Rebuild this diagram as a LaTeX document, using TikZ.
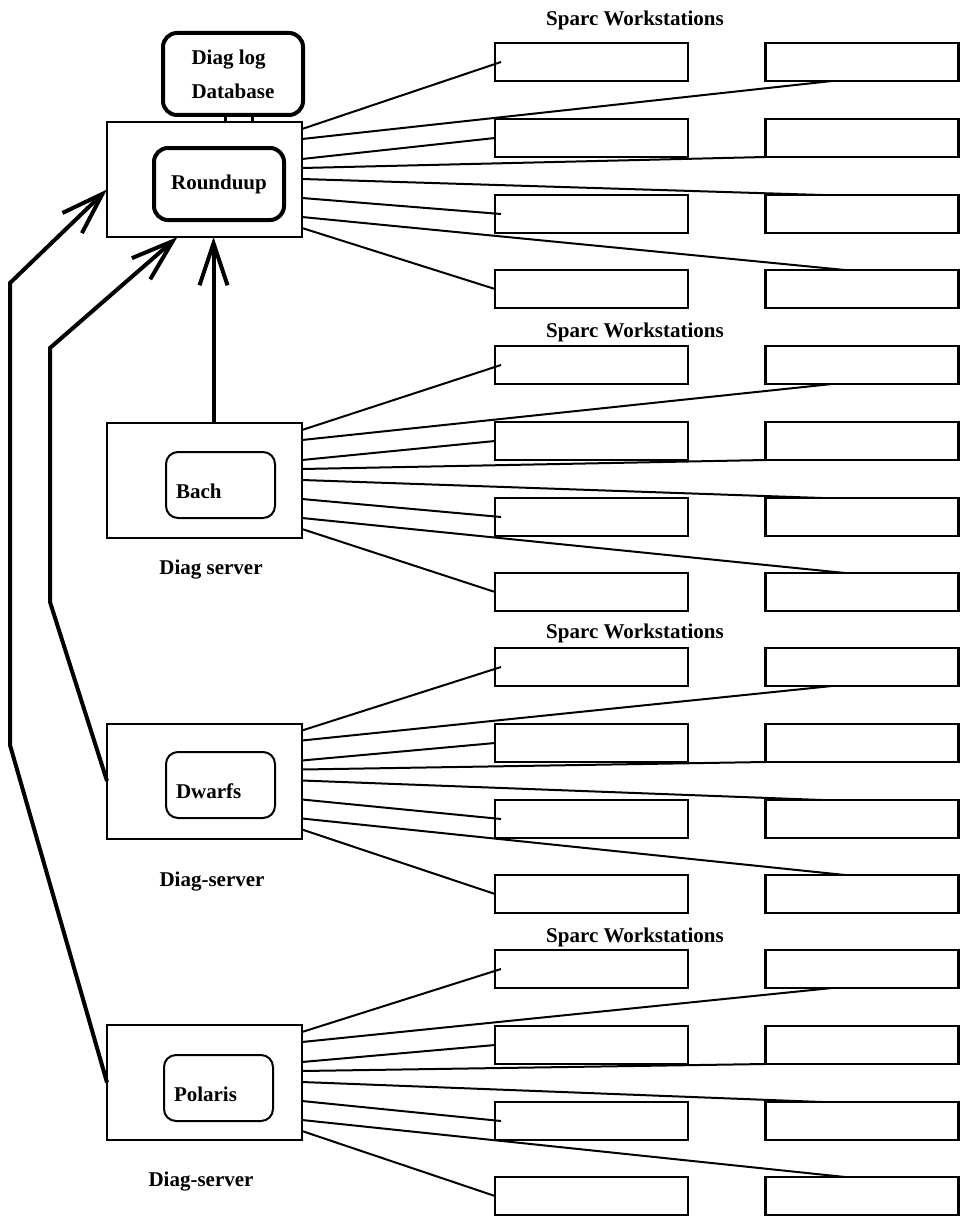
\documentclass[tikz,border=0pt]{standalone}
\usepackage{fontspec}
\setmainfont{Liberation Serif}
\usetikzlibrary{arrows.meta,positioning}

\tikzset{
  server/.style={draw,line width=2pt,minimum width=195pt,minimum height=115pt,inner sep=0pt,outer sep=0pt},
  task/.style={draw,line width=2pt,rounded corners=12pt,minimum width=109pt,minimum height=66pt,
    text width=89pt,inner xsep=10pt,align=left,text height=26pt,text depth=0pt,outer sep=0pt},
  store/.style={draw,line width=4pt,rounded corners=14pt,outer sep=0pt},
  station/.style={draw,line width=2.5pt,minimum width=193pt,minimum height=38pt,inner sep=0pt,outer sep=0pt},
  link/.style={line width=2pt},
  feed/.style={line width=4pt,-{Straight Barb[length=42pt,width=28pt]}}
}

\begin{document}
\begin{tikzpicture}[x=1pt,y=-1pt,every node/.style={font=\bfseries\fontsize{21}{25}\selectfont}]
	\useasboundingbox (0,0) rectangle (961,1220);

	% diag servers
	\node[server] (srv1) at (204.5,179.5) {};
	\node[server] (srv2) at (204.5,480.5) {};
	\node[server] (srv3) at (204.5,781) {};
	\node[server] (srv4) at (204.5,1082.5) {};

	\node[store,minimum width=130pt,minimum height=72pt] (roundup) at (219,184) {Rounduup};
	\node[store,minimum width=140pt,minimum height=82pt,align=left,
		font=\bfseries\fontsize{21}{34}\selectfont] (logdb) at (233,74) {Diag log\\Database};
	\draw[line width=3pt] ([xshift=-8pt]logdb.south) -- ([xshift=-8pt]logdb.south |- srv1.north);
	\draw[line width=3pt] ([xshift=19pt]logdb.south) -- ([xshift=19pt]logdb.south |- srv1.north);

	\node[task] (bach) at (220.5,485) {Bach};
	\node[task] (dwarfs) at (220.5,785) {Dwarfs};
	\node[task] (polaris) at (218.5,1088) {Polaris};

	\node (lab2) at (211,570) {Diag server};
	\node (lab3) at (212,882) {Diag-server};
	\node (lab4) at (201,1182) {Diag-server};

	% workstations and their lines
	\foreach \g/\dy/\ly in {1/0/20,2/303/332,3/605/633,4/907/937}{
		\node (sparc\g) at (635,\ly) {Sparc Workstations};
		\foreach \r/\yy in {1/62,2/138,3/214,4/289}{
			\node[station] (a\g\r) at (591.5,\yy+\dy) {};
			\node[station] (b\g\r) at (862,\yy+\dy) {};
		}
		\draw[link] ([yshift=-7pt]srv\g.north east) -- ([xshift=6pt]a\g1.west);
		\draw[link] ([yshift=-17pt]srv\g.north east) -- ([xshift=-30pt]b\g1.south);
		\draw[link] ([yshift=-37pt]srv\g.north east) -- (a\g2.west);
		\draw[link] ([yshift=-46pt]srv\g.north east) -- (b\g2.south west);
		\draw[link] ([yshift=-57pt]srv\g.north east) -- ([xshift=-40pt]b\g3.north);
		\draw[link] ([yshift=-76pt]srv\g.north east) -- ([xshift=6pt]a\g3.west);
		\draw[link] ([yshift=-95pt]srv\g.north east) -- ([xshift=-17pt]b\g4.north);
		\draw[link] ([yshift=-106pt]srv\g.north east) -- (a\g4.west);
	}

	% reports to roundup
	\coordinate (p1) at (10,745);
	\coordinate (p2) at (10,283);
	\coordinate (d1) at (50,602);
	\coordinate (d2) at (50,348);
	\draw[feed] (srv4.west) -- (p1) -- (p2) -- ([yshift=-10pt]srv1.west);
	\draw[feed] (srv3.west) -- (d1) -- (d2) -- ([xshift=-27pt]srv1.south);
	\draw[feed] ([xshift=9pt]srv2.north) -- ([xshift=9pt]srv1.south);
\end{tikzpicture}
\end{document}
